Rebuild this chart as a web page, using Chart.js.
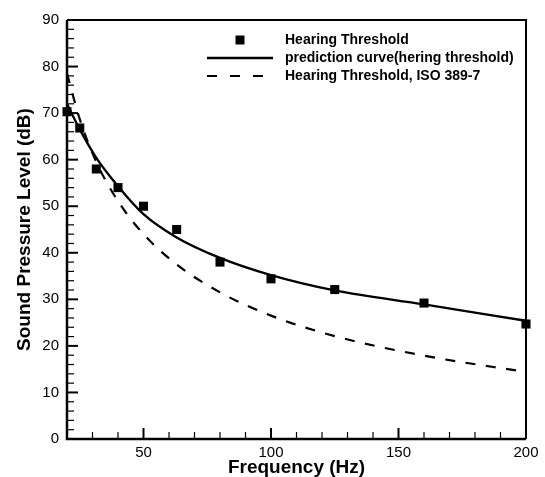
<!DOCTYPE html>
<html>
<head>
<meta charset="utf-8">
<script src="https://cdn.jsdelivr.net/npm/chart.js@4"></script>
<style>
  html, body { margin: 0; padding: 0; background: #fff; }
  #wrap { width: 545px; height: 477px; }
</style>
</head>
<body>
<div id="wrap"><canvas id="myChart" width="545" height="477"></canvas></div>
<script>
// frequencies (Hz)
const freqs = [20, 25, 31.5, 40, 50, 63, 80, 100, 125, 160, 200];
// measured hearing threshold (dB)
const measured = [70.3, 66.8, 58, 54, 50, 45, 38, 34.4, 32.1, 29.2, 24.7];
// prediction curve (hering threshold)
const prediction = [72, 66.5, 60.4, 54.3, 48.3, 43.3, 38.9, 35.2, 31.9, 28.9, 25.4];
// ISO 389-7 threshold
const iso = [78.5, 68.7, 59.5, 51.1, 44.0, 37.5, 31.5, 26.5, 22.1, 17.9, 14.4];

const xTicks = [50, 100, 150, 200];
const yTicks = [0, 10, 20, 30, 40, 50, 60, 70, 80, 90];
const xMinorStep = 10;
const yMinorStep = 2;

const labels = ['Hearing Threshold', 'prediction curve(hering threshold)', 'Hearing Threshold, ISO 389-7'];

const FONT = "'Liberation Sans', Arial, sans-serif";

function pts(ys) {
    return freqs.map((f, i) => ({ x: f, y: ys[i] }));
}

// axis frame + inward ticks
const framePlugin = {
    id: 'frame',
    beforeDatasetsDraw(chart) {
        const { ctx, chartArea: a, scales: { x, y } } = chart;
        ctx.save();
        ctx.strokeStyle = '#000';
        ctx.lineWidth = 2;
        ctx.beginPath();
        ctx.moveTo(a.left, a.top);
        ctx.lineTo(a.right, a.top);
        ctx.lineTo(a.right, a.bottom);
        ctx.stroke();
        ctx.lineWidth = 2.5;
        ctx.beginPath();
        ctx.moveTo(a.left, a.top);
        ctx.lineTo(a.left, a.bottom);
        ctx.lineTo(a.right, a.bottom);
        ctx.stroke();

        // x ticks
        for (let v = x.min + xMinorStep; v < x.max; v += xMinorStep) {
            const px = x.getPixelForValue(v);
            const major = xTicks.includes(v);
            ctx.lineWidth = major ? 2 : 1.2;
            ctx.beginPath();
            ctx.moveTo(px, a.bottom);
            ctx.lineTo(px, a.bottom - (major ? 11 : 7));
            ctx.stroke();
        }
        // y ticks
        for (let v = y.min + yMinorStep; v < y.max; v += yMinorStep) {
            const py = y.getPixelForValue(v);
            const major = yTicks.includes(v);
            ctx.lineWidth = major ? 2 : 1.2;
            ctx.beginPath();
            ctx.moveTo(a.left, py);
            ctx.lineTo(a.left + (major ? 11 : 7), py);
            ctx.stroke();
        }
        ctx.restore();
    }
};

// legend in upper right of the plot
const legendPlugin = {
    id: 'innerLegend',
    afterDraw(chart) {
        const { ctx, chartArea: a } = chart;
        const x0 = a.left + 140, x1 = x0 + 66, tx = x0 + 78;
        let yy = a.top + 20;
        const rowH = 18;
        ctx.save();
        ctx.font = 'bold 14px ' + FONT;
        ctx.textBaseline = 'middle';
        ctx.fillStyle = '#000';
        chart.data.datasets.forEach((ds, i) => {
            if (i === 0) {
                ctx.fillRect((x0 + x1) / 2 - 4.5, yy - 4.5, 9, 9);
            } else {
                ctx.strokeStyle = '#000';
                ctx.lineWidth = ds.borderWidth;
                ctx.setLineDash(ds.borderDash ? [10, 13] : []);
                ctx.beginPath();
                ctx.moveTo(x0, yy);
                ctx.lineTo(x1, yy);
                ctx.stroke();
                ctx.setLineDash([]);
            }
            ctx.fillText(ds.label, tx, yy);
            yy += rowH;
        });
        ctx.restore();
    }
};

const ctx = document.getElementById('myChart').getContext('2d');
const myChart = new Chart(ctx, {
    type: 'scatter',
    data: {
        datasets: [
            {
                label: labels[0],
                data: pts(measured),
                showLine: false,
                pointStyle: 'rect',
                pointRadius: 6.4,
                backgroundColor: '#000',
                borderColor: '#000',
                borderWidth: 0,
                clip: false
            },
            {
                label: labels[1],
                data: pts(prediction),
                showLine: true,
                pointRadius: 0,
                borderColor: '#000',
                borderWidth: 2.3,
                cubicInterpolationMode: 'monotone'
            },
            {
                label: labels[2],
                data: pts(iso),
                showLine: true,
                pointRadius: 0,
                borderColor: '#000',
                borderWidth: 2.2,
                borderDash: [10, 10.5],
                cubicInterpolationMode: 'monotone'
            }
        ]
    },
    options: {
        responsive: false,
        animation: false,
        events: [],
        layout: { padding: { top: 20, right: 19, left: 0, bottom: 0 } },
        plugins: {
            legend: { display: false },
            tooltip: { enabled: false }
        },
        scales: {
            x: {
                type: 'linear',
                min: 20,
                max: 200,
                afterBuildTicks: s => { s.ticks = xTicks.map(v => ({ value: v })); },
                afterFit: s => { s.height = 38; },
                grid: { display: false, drawTicks: false },
                border: { display: false },
                ticks: {
                    color: '#000',
                    padding: 5,
                    maxRotation: 0,
                    font: { family: FONT, size: 15 }
                },
                title: {
                    display: true,
                    text: 'Frequency (Hz)',
                    color: '#000',
                    padding: { top: 0, bottom: 0 },
                    font: { family: FONT, size: 19, weight: 'bold', lineHeight: 1 }
                }
            },
            y: {
                type: 'linear',
                min: 0,
                max: 90,
                afterBuildTicks: s => { s.ticks = yTicks.map(v => ({ value: v })); },
                afterFit: s => { s.width = 67; },
                grid: { display: false, drawTicks: false },
                border: { display: false },
                ticks: {
                    color: '#000',
                    padding: 8,
                    font: { family: FONT, size: 15 }
                },
                title: {
                    display: true,
                    text: 'Sound Pressure Level (dB)',
                    color: '#000',
                    padding: { top: 15.5, bottom: 0 },
                    font: { family: FONT, size: 19, weight: 'bold', lineHeight: 1 }
                }
            }
        }
    },
    plugins: [framePlugin, legendPlugin]
});
</script>
</body>
</html>
